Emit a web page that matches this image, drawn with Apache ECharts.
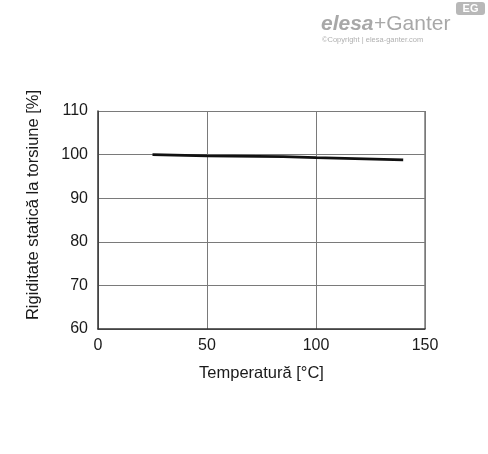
<!DOCTYPE html>
<html><head><meta charset="utf-8">
<script src="https://cdn.jsdelivr.net/npm/echarts@6/dist/echarts.min.js"></script>
<style>html,body{margin:0;padding:0;background:#fff}#c{width:488px;height:454px}</style>
</head><body><div id="c"></div>
<script>
const temps = [25, 50, 85, 100, 140];
const stiffness = [100, 99.7, 99.55, 99.3, 98.8];
const xTicks = [0, 50, 100, 150];
const yTicks = [60, 70, 80, 90, 100, 110];
const xTitle = 'Temperatură [°C]';
const yTitle = 'Rigiditate statică la torsiune [%]';

const chart = echarts.init(document.getElementById('c'), null, {renderer: 'canvas'});
const font = 'Liberation Sans, Arial, sans-serif';
chart.setOption({
  animation: false,
  backgroundColor: '#fff',
  grid: {left: 98, right: 63, top: 111, bottom: 125},
  xAxis: {
    type: 'value', min: xTicks[0], max: xTicks[xTicks.length-1], interval: 50,
    name: xTitle, nameLocation: 'middle', nameGap: 36,
    nameTextStyle: {fontFamily: font, fontSize: 16.5, color: '#1a1a1a'},
    axisLine: {show: true, lineStyle: {color: '#333', width: 1.5}},
    axisTick: {show: false},
    axisLabel: {fontFamily: font, fontSize: 16, color: '#1a1a1a', margin: 9},
    splitLine: {show: true, lineStyle: {color: '#7a7a7a', width: 1}}
  },
  yAxis: {
    type: 'value', min: yTicks[0], max: yTicks[yTicks.length-1], interval: 10,
    axisLine: {show: true, lineStyle: {color: '#333', width: 1.5}},
    axisTick: {show: false},
    axisLabel: {fontFamily: font, fontSize: 16, color: '#1a1a1a', margin: 10},
    splitLine: {show: true, lineStyle: {color: '#7a7a7a', width: 1}}
  },
  graphic: [
    {type: 'rect', shape: {x: 425, y: 111, width: 0, height: 218}, style: {stroke: '#7a7a7a', lineWidth: 1}},
    {type: 'text', x: 33, y: 205, rotation: Math.PI/2, style: {text: yTitle, font: '16.5px ' + font, fill: '#1a1a1a', textAlign: 'center', textVerticalAlign: 'middle'}},
    {type: 'rect', shape: {x: 456, y: 2, width: 29, height: 13, r: 3}, style: {fill: '#b8b8b8'}},
    {type: 'text', x: 470.5, y: 9, style: {text: 'EG', font: 'bold 11px ' + font, fill: '#fff', textAlign: 'center', textVerticalAlign: 'middle'}},
    {type: 'text', x: 321, y: 24, style: {text: 'elesa', font: 'bold italic 21px ' + font, fill: '#a8a8a8', textVerticalAlign: 'middle'}},
    {type: 'text', x: 374, y: 24, style: {text: '+Ganter', font: '21px ' + font, fill: '#a8a8a8', textVerticalAlign: 'middle'}},
    {type: 'text', x: 322, y: 40, style: {text: '©Copyright | elesa-ganter.com', font: '7.5px ' + font, fill: '#b0b0b0', textVerticalAlign: 'middle'}}
  ],
  series: [{
    type: 'line', data: temps.map((t, i) => [t, stiffness[i]]),
    showSymbol: false, smooth: false,
    lineStyle: {color: '#111', width: 2.8}
  }]
});
</script></body></html>
